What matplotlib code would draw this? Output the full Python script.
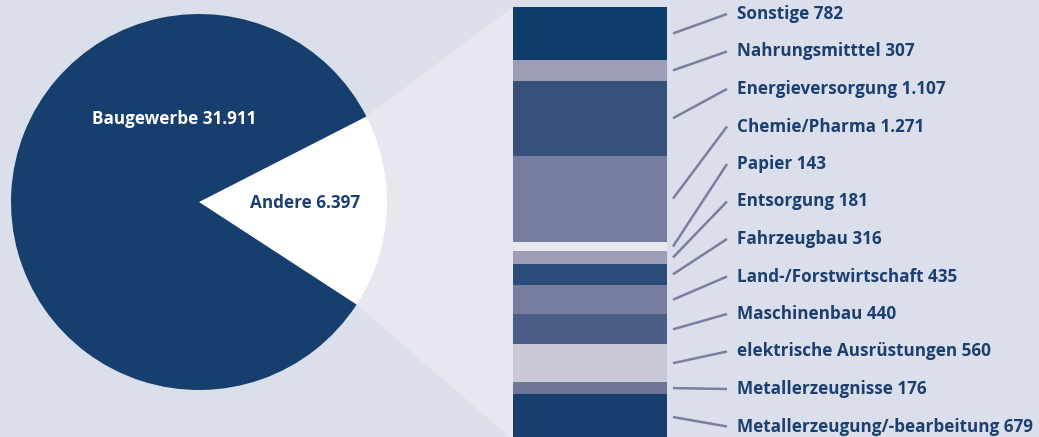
import numpy as np
import matplotlib.pyplot as plt

# pie: Baugewerbe vs. the rest
pie_labels = ['Andere', 'Baugewerbe']
pie_values = [6397, 31911]
pie_text = ['Andere 6.397', 'Baugewerbe 31.911']

# breakdown of "Andere", top to bottom
cats = ['Sonstige', 'Nahrungsmitttel', 'Energieversorgung', 'Chemie/Pharma', 'Papier',
        'Entsorgung', 'Fahrzeugbau', 'Land-/Forstwirtschaft', 'Maschinenbau',
        'elektrische Ausrüstungen', 'Metallerzeugnisse', 'Metallerzeugung/-bearbeitung']
vals = [782, 307, 1107, 1271, 143, 181, 316, 435, 440, 560, 176, 679]
val_text = ['782', '307', '1.107', '1.271', '143', '181', '316', '435', '440', '560', '176', '679']
seg_colors = ['#0f3d6b', '#9d9db8', '#37517a', '#777d9e', '#e8e7ef', '#9d9db8',
              '#2a4c78', '#777d9e', '#4a5e87', '#c8c8d6', '#6f7596', '#173f6e']

bg = '#dbdfeb'
navy = '#173f6e'
txt = '#1b3f6e'
zoomcol = '#e8e7ef'
linecol = '#7a7fa0'
fnt = 'Open Sans'
fs = 12.3

W, H = 1039, 437
fig = plt.figure(figsize=(W/100, H/100), dpi=100, facecolor=bg)
ax = fig.add_axes([0, 0, 1, 1])
ax.set_facecolor(bg)

# pie geometry (pixel units, y up)
cx, cy, r = 199, 235, 188
frac = pie_values[0] / sum(pie_values)
start = -3 - frac * 180
ax.pie(pie_values, center=(cx, cy), radius=r, startangle=start, counterclock=True,
       colors=['white', navy], wedgeprops=dict(linewidth=0))

# stacked bar
bx0, bw = 513, 154
top = H - 7
scale = 433 / sum(vals)
heights = np.array(vals) * scale
bottoms = top - np.cumsum(heights)
ax.bar(bx0 + bw/2, heights, bottom=bottoms, width=bw, color=seg_colors, linewidth=0, zorder=3)

# zoom connector
t1 = np.deg2rad(start)
t2 = np.deg2rad(start + frac * 360)
p_low = (cx + r*np.cos(t1), cy + r*np.sin(t1))
p_up = (cx + r*np.cos(t2), cy + r*np.sin(t2))
ax.fill([cx, p_up[0], bx0, bx0, p_low[0]], [cy, p_up[1], top, bottoms[-1], p_low[1]],
        color=zoomcol, linewidth=0, zorder=0)

# pie labels
ax.text(174, H - 119, pie_text[1], color='white', fontsize=fs, fontweight='bold',
        ha='center', va='center', family=fnt, zorder=5)
ax.text(305, H - 203, pie_text[0], color=txt, fontsize=fs, fontweight='bold',
        ha='center', va='center', family=fnt, zorder=5)

# labels with leader lines
mids = bottoms + heights / 2
for i in range(len(cats)):
    ly = H - (14 + i * 37.5)
    ax.plot([bx0 + bw + 6, 727], [mids[i], ly], color=linecol, lw=1.8,
            solid_capstyle='butt', zorder=4)
    ax.text(737, ly, cats[i] + ' ' + val_text[i], color=txt, fontsize=fs,
            fontweight='bold', ha='left', va='center', family=fnt, zorder=5)

ax.set_xlim(0, W)
ax.set_ylim(0, H)
ax.set_aspect('auto')
ax.axis('off')

plt.savefig('out.png', dpi=100, facecolor=bg)
